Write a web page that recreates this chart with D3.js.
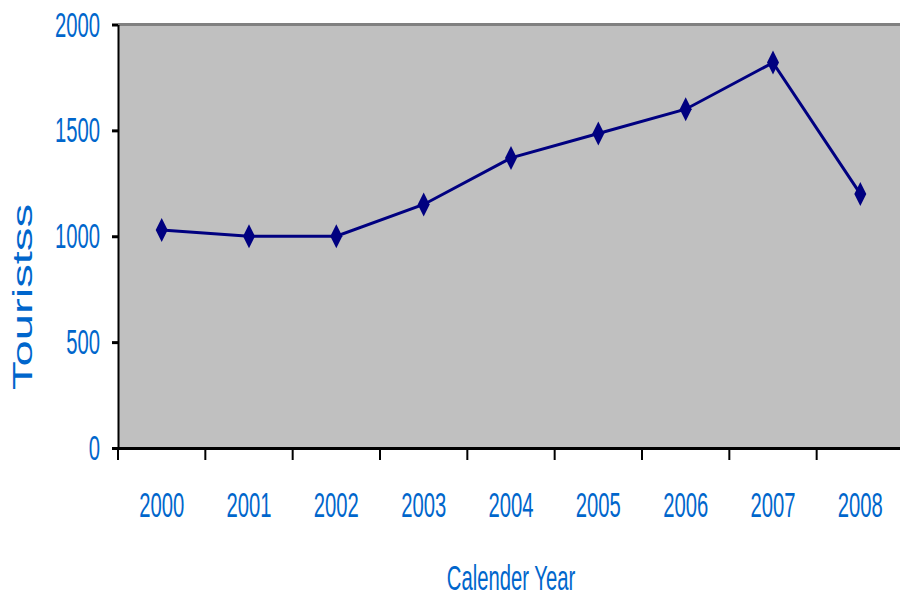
<!DOCTYPE html>
<html>
<head>
<meta charset="utf-8">
<script src="https://cdn.jsdelivr.net/npm/d3@7"></script>
<style>
  body { margin: 0; background: #fff; }
  svg { display: block; }
</style>
</head>
<body>
<main></main>
<script>
const years = ['2000', '2001', '2002', '2003', '2004', '2005', '2006', '2007', '2008'];
const tourists = [1030, 1000, 1000, 1150, 1370, 1485, 1600, 1820, 1200];
const yTicks = [0, 500, 1000, 1500, 2000];

const w = 900;
const h = 596;
const plotL = 118, plotR = 904, plotT = 24.5, plotB = 448;
const blue = '#0066CC';
const squeeze = 0.5625;

const svg = d3.select('main').append('svg').attr('width', w).attr('height', h);

const x = d3.scaleBand().domain(years).range([plotL, plotR]);
const y = d3.scaleLinear().domain([0, 2000]).range([plotB, plotT]);

// plot area
svg.append('rect')
    .attr('x', plotL).attr('y', plotT)
    .attr('width', plotR - plotL).attr('height', plotB - plotT)
    .attr('fill', '#C0C0C0');
svg.append('line')
    .attr('x1', plotL).attr('x2', plotR)
    .attr('y1', plotT).attr('y2', plotT)
    .attr('stroke', '#808080').attr('stroke-width', 3);

// y axis
const yAxis = svg.append('g')
    .attr('transform', `translate(${plotL},0)`)
    .call(d3.axisLeft(y).tickValues(yTicks).tickFormat(d3.format('d')).tickSize(6).tickSizeOuter(0));
yAxis.select('.domain').attr('stroke', '#000').attr('stroke-width', 2);
yAxis.selectAll('.tick line').attr('stroke', '#000').attr('stroke-width', 3);
yAxis.selectAll('.tick text')
    .attr('x', -18 / squeeze)
    .attr('transform', `scale(${squeeze},1)`)
    .attr('font-family', '"Liberation Sans", Arial, sans-serif')
    .attr('font-size', 36)
    .attr('fill', blue);

// x axis
const xAxis = svg.append('g')
    .attr('transform', `translate(0,${plotB})`)
    .call(d3.axisBottom(x).tickSize(12).tickSizeOuter(0));
xAxis.select('.domain').attr('stroke', '#000').attr('stroke-width', 3);
xAxis.selectAll('.tick line')
    .attr('x1', -x.bandwidth() / 2).attr('x2', -x.bandwidth() / 2)
    .attr('stroke', '#000').attr('stroke-width', 2);
xAxis.selectAll('.tick text')
    .attr('y', 69).attr('dy', 0)
    .attr('transform', `scale(${squeeze},1)`)
    .attr('font-family', '"Liberation Sans", Arial, sans-serif')
    .attr('font-size', 36)
    .attr('fill', blue);

// series
const cx = d => x(d) + x.bandwidth() / 2;
const line = d3.line().x((d, i) => cx(years[i])).y(d => y(d));
svg.append('path')
    .datum(tourists)
    .attr('d', line)
    .attr('fill', 'none')
    .attr('stroke', '#000080')
    .attr('stroke-width', 3);

svg.append('g')
    .selectAll('path')
    .data(tourists)
    .enter()
    .append('path')
    .attr('d', 'M0,-12L6,0L0,12L-6,0Z')
    .attr('transform', (d, i) => `translate(${cx(years[i])},${y(d)})`)
    .attr('fill', '#000080');

// axis titles
svg.append('text')
    .attr('transform', `translate(${(plotL + plotR) / 2},590) scale(${squeeze},1)`)
    .attr('text-anchor', 'middle')
    .attr('font-family', '"Liberation Sans", Arial, sans-serif')
    .attr('font-size', 36)
    .attr('fill', blue)
    .text('Calender Year');

svg.append('text')
    .attr('transform', 'translate(32,297) rotate(-90)')
    .attr('text-anchor', 'middle')
    .attr('font-family', '"Liberation Sans", Arial, sans-serif')
    .attr('font-size', 27)
    .attr('textLength', 186)
    .attr('lengthAdjust', 'spacingAndGlyphs')
    .attr('fill', blue)
    .text('Touristss');
</script>
</body>
</html>
